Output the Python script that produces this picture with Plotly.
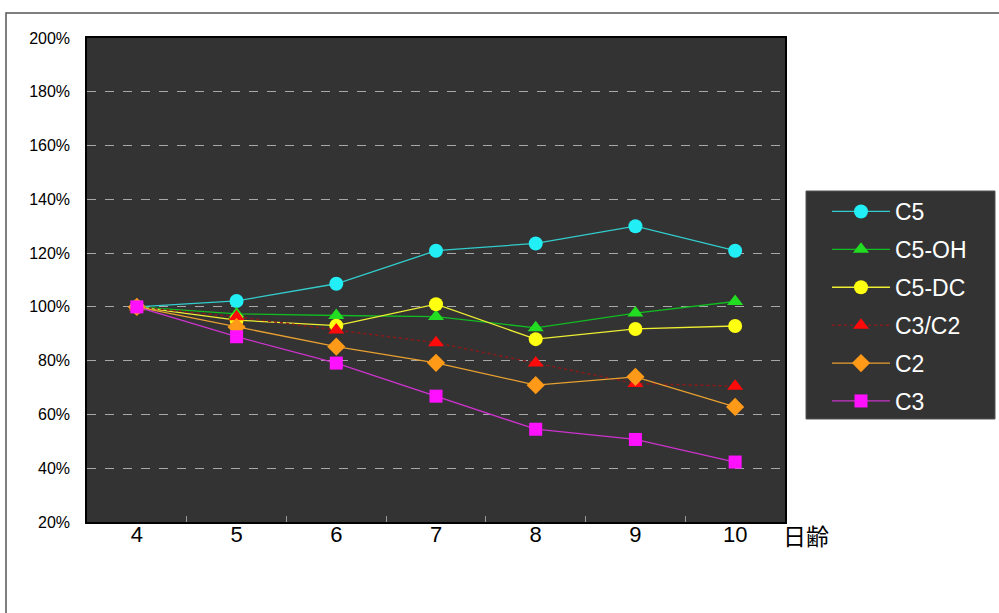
import plotly.graph_objects as go

# Day of age (日齢) and relative levels (% of day 4)
days = ["4", "5", "6", "7", "8", "9", "10"]
c5 = [100, 102.2, 108.6, 120.9, 123.6, 130.0, 120.9]
c5_oh = [100, 97.4, 96.8, 96.4, 92.2, 97.7, 102.0]
c5_dc = [100, 95.1, 93.0, 101.0, 88.0, 91.8, 92.9]
c3_c2 = [100, 96.3, 91.4, 86.7, 79.1, 71.5, 70.5]
c2 = [100, 92.5, 85.2, 79.2, 70.9, 74.0, 62.8]
c3 = [100, 88.9, 79.1, 66.8, 54.5, 50.7, 42.3]

y_ticks = [20, 40, 60, 80, 100, 120, 140, 160, 180, 200]
y_tick_text = [f"{v}%" for v in y_ticks]

FONT = "Liberation Sans, Arial, Noto Sans CJK JP, sans-serif"

# Plot area in pixels (used to place the legend panel and labels)
W, H = 999, 613
L, R, T, B = 87, 214, 38, 91
PW, PH = W - L - R, H - T - B


def px_x(x):
    return (x - L) / PW


def px_y(y):
    return (H - B - y) / PH


series = [
    ("C5", c5, dict(color="#33CCCC", width=1.3), dict(symbol="circle", size=14, color="#22EEF5")),
    ("C5-OH", c5_oh, dict(color="#11BB22", width=1.3), dict(symbol="triangle-up", size=14, color="#22DD22")),
    ("C5-DC", c5_dc, dict(color="#EEEE33", width=1.3), dict(symbol="circle", size=14, color="#FFFF11")),
    ("C3/C2", c3_c2, dict(color="#8A1A1A", width=1.5, dash="dot"), dict(symbol="triangle-up", size=14, color="#FF0A0A")),
    ("C2", c2, dict(color="#E8A030", width=1.3), dict(symbol="diamond", size=14, color="#FF9918")),
    ("C3", c3, dict(color="#CC33CC", width=1.3), dict(symbol="square", size=13, color="#FF11FF")),
]

fig = go.Figure()
for name, vals, line, marker in series:
    fig.add_trace(go.Scatter(
        x=days, y=vals, name=name, mode="lines+markers",
        line=line, marker=dict(line=dict(width=0), **marker),
        legendgroup=name,
    ))

fig.update_layout(
    width=W, height=H,
    margin=dict(l=L, r=R, t=T, b=B),
    paper_bgcolor="white",
    plot_bgcolor="#333333",
    font=dict(family=FONT, color="black"),
    showlegend=True,
    legend=dict(
        x=px_x(827), xanchor="left", y=px_y(190), yanchor="top",
        bgcolor="rgba(0,0,0,0)", borderwidth=0,
        font=dict(size=23, color="white", family=FONT),
        traceorder="grouped", tracegroupgap=5,
        itemwidth=58,
    ),
    xaxis=dict(
        type="category", range=[-0.5, 6.5],
        tickson="boundaries", ticks="inside", ticklen=6, tickcolor="#999999",
        tickfont=dict(size=22, family=FONT), ticklabelstandoff=-8,
        showgrid=False, showline=True, linecolor="black", linewidth=1.5, mirror=True,
    ),
    yaxis=dict(
        range=[20, 200], tickvals=y_ticks, ticktext=y_tick_text,
        tickfont=dict(size=16, family=FONT), ticklabelstandoff=12,
        showgrid=True, gridcolor="#A8A8A8", griddash="dash", gridwidth=1,
        showline=True, linecolor="black", linewidth=1.5, mirror=True,
        zeroline=False,
    ),
)

# Axis title for the day axis, placed just after the last category label
fig.add_annotation(
    text="日齢", xref="paper", yref="paper", x=px_x(781), y=px_y(535),
    xanchor="left", yanchor="middle", showarrow=False,
    font=dict(size=23, family="Noto Sans CJK JP", color="black"),
)

# Legend panel
fig.add_shape(
    type="rect", xref="paper", yref="paper",
    x0=px_x(806), x1=px_x(995), y0=px_y(419), y1=px_y(191),
    line=dict(color="#555555", width=1), fillcolor="#333333", layer="below",
)

# Outer chart frame
fig.add_shape(
    type="rect", xref="paper", yref="paper",
    x0=px_x(6), x1=px_x(1100), y0=px_y(700), y1=px_y(13),
    line=dict(color="#555555", width=1.5), fillcolor="rgba(0,0,0,0)", layer="below",
)

fig.write_html("out.html")
